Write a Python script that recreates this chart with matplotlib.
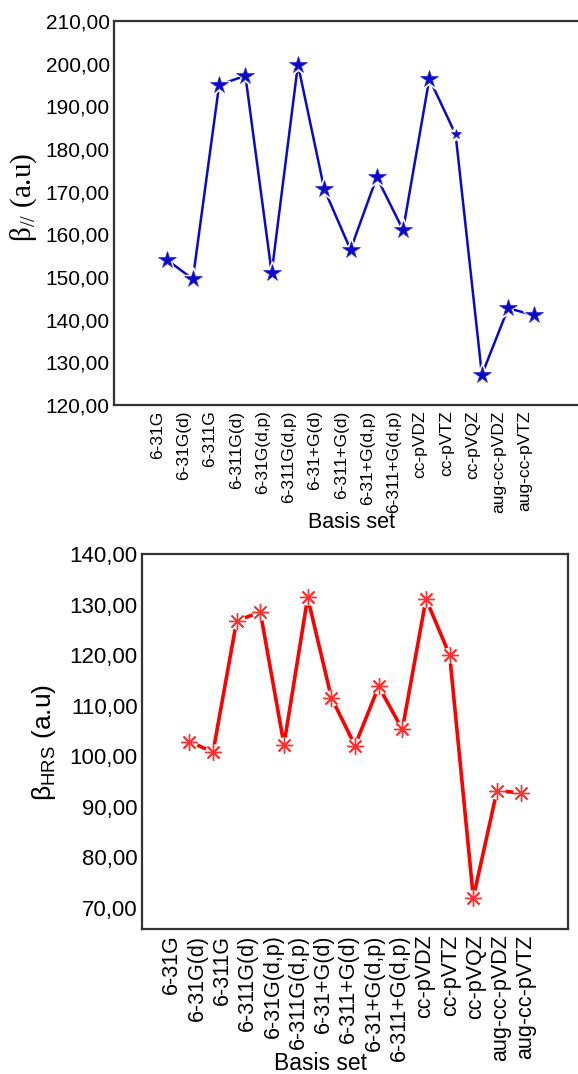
import numpy as np
import matplotlib
matplotlib.use("Agg")
import matplotlib.pyplot as plt

# --- data ---
basis_sets = ['6-31G', '6-31G(d)', '6-311G', '6-311G(d)', '6-31G(d,p)',
              '6-311G(d,p)', '6-31+G(d)', '6-311+G(d)', '6-31+G(d,p)',
              '6-311+G(d,p)', 'cc-pVDZ', 'cc-pVTZ', 'cc-pVQZ',
              'aug-cc-pVDZ', 'aug-cc-pVTZ']
beta_par = [154.1, 149.5, 195.0, 197.2, 151.0, 199.8, 170.6, 156.4,
            173.4, 161.0, 196.5, 183.4, 127.1, 142.7, 141.0]
beta_hrs = [102.9, 100.8, 126.8, 128.5, 102.3, 131.4, 111.6, 102.1,
            113.8, 105.3, 131.1, 120.0, 72.0, 93.2, 92.7]
top_ticks = [120, 130, 140, 150, 160, 170, 180, 190, 200, 210]
bot_ticks = [70, 80, 90, 100, 110, 120, 130, 140]

plt.rcParams['font.family'] = ['Liberation Sans', 'DejaVu Sans']

W, H = 578, 1074
fig = plt.figure(figsize=(W / 100, H / 100), dpi=100)


def fmt(v):
    return f"{v:.2f}".replace('.', ',')


def style_axes(ax, ticks, size):
    ax.set_yticks(ticks)
    ax.set_yticklabels([fmt(t) for t in ticks], fontsize=size)
    ax.tick_params(axis='y', length=0, pad=3)
    ax.tick_params(axis='x', length=0, pad=4)
    for s in ax.spines.values():
        s.set_linewidth(1.6)
        s.set_color('#333333')


x = np.arange(len(basis_sets))

# --- top panel: beta parallel ---
ax1 = fig.add_axes([114 / W, 1 - 405 / H, (587 - 114) / W, (405 - 21) / H])
ax1.plot(x, beta_par, color='#0a0ac8', lw=1.8, zorder=2)
ax1.plot(x, beta_par, ls='none', marker='*', ms=17, color='white', zorder=3)
sizes = [13] * len(x)
sizes[11] = 7  # cc-pVTZ is drawn smaller in the original
for xi, yi, ms in zip(x, beta_par, sizes):
    ax1.plot(xi, yi, marker='*', ms=ms, color='#0a0ac8', mec='#2a2ad8',
             mew=0.5, zorder=4)
ax1.set_xlim(-2, 16)
ax1.set_ylim(120, 210)
style_axes(ax1, top_ticks, 15)
ax1.spines['right'].set_visible(False)
ax1.set_xticks(x - 0.35)
ax1.set_xticklabels(basis_sets, rotation=90, fontsize=12.5, va='top')
fig.text(24 / W, 1 - 197 / H, r'$\mathregular{\beta_{//}}$ (a.u)',
         family='Liberation Serif', fontsize=21, rotation=90,
         ha='center', va='center')
fig.text(351 / W, 1 - 522 / H, 'Basis set', fontsize=15.5,
         ha='center', va='center')

# --- bottom panel: beta HRS ---
ax2 = fig.add_axes([142 / W, 1 - 929 / H, (568 - 142) / W, (929 - 554) / H])
ax2.plot(x, beta_hrs, color='#ff0000', lw=2.6, zorder=2)
ax2.plot(x, beta_hrs, ls='none', marker='o', ms=11, color='white', zorder=3)
ax2.plot(x, beta_hrs, ls='none', marker=(8, 2, 0), ms=12,
         mec='#ff3030', mew=1.0, zorder=4)
ax2.set_xlim(-2, 16)
ax2.set_ylim(65.8, 140)
style_axes(ax2, bot_ticks, 16)
ax2.set_xticks(-0.75 + x * 1.07)
ax2.set_xticklabels(basis_sets, rotation=90, fontsize=15.5, va='top')
fig.text(44 / W, 1 - 742 / H, r'$\mathregular{\beta_{HRS}}$ (a.u)',
         fontsize=19, rotation=90, ha='center', va='center')
fig.text(320 / W, 1 - 1063 / H, 'Basis set', fontsize=16.5,
         ha='center', va='center')

fig.savefig('out.png', dpi=100)
